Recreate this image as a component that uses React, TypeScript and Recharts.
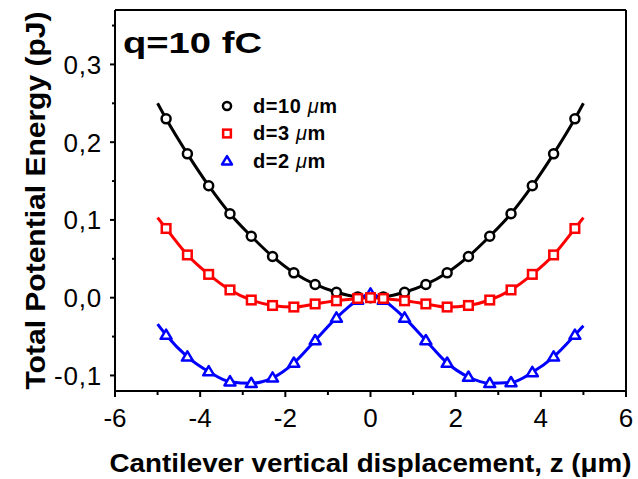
import { ComposedChart, Line, XAxis, YAxis, ReferenceLine, Legend } from 'recharts'

const FONT = '"Liberation Sans", Arial, sans-serif'

// z positions (µm) — the ±5 ends only carry the curve, no marker
const Z = [-5, -4.8, -4.3, -3.8, -3.3, -2.8, -2.3, -1.8, -1.3, -0.8, -0.3, 0, 0.3, 0.8, 1.3, 1.8, 2.3, 2.8, 3.3, 3.8, 4.3, 4.8, 5]

const D10 = [0.250, 0.230, 0.185, 0.144, 0.108, 0.079, 0.053, 0.032, 0.017, 0.007, 0.001, 0.000, 0.001, 0.007, 0.017, 0.032, 0.053, 0.079, 0.108, 0.144, 0.185, 0.230, 0.250]
const D3 = [0.103, 0.089, 0.055, 0.030, 0.010, -0.003, -0.010, -0.012, -0.008, -0.004, -0.001, 0.000, -0.001, -0.004, -0.008, -0.012, -0.010, -0.003, 0.010, 0.030, 0.055, 0.089, 0.103]
const D2 = [-0.034, -0.048, -0.076, -0.095, -0.108, -0.110, -0.103, -0.084, -0.055, -0.026, -0.003, 0.005, -0.003, -0.026, -0.055, -0.084, -0.102, -0.110, -0.109, -0.096, -0.076, -0.048, -0.036]

const X_TICKS = [-6, -5, -4, -3, -2, -1, 0, 1, 2, 3, 4, 5, 6]
const Y_TICKS = [-0.1, -0.05, 0, 0.05, 0.1, 0.15, 0.2, 0.25, 0.3, 0.35]
const X_DOMAIN = [-6, 6]
const Y_DOMAIN = [-0.12, 0.37]

const SERIES = [
  { key: 'd10', prefix: 'd=10 ', color: '#000000', shape: 'circle' },
  { key: 'd3', prefix: 'd=3 ', color: '#ff0000', shape: 'square' },
  { key: 'd2', prefix: 'd=2 ', color: '#0000ff', shape: 'triangle' },
]
const DRAW_ORDER = ['d10', 'd2', 'd3']

const rows = Z.map((z, i) => ({ z, d10: D10[i], d3: D3[i], d2: D2[i] }))

function Marker({ shape, cx, cy, color, s = 1 }: any) {
  const common = { fill: '#fff', stroke: color, strokeWidth: 2.5 }
  if (shape === 'circle') return <circle cx={cx} cy={cy} r={4.5 * s} {...common} />
  if (shape === 'square')
    return <rect x={cx - 4.3 * s} y={cy - 4.3 * s} width={8.6 * s} height={8.6 * s} {...common} />
  const pts = `${cx},${cy - 5.5 * s} ${cx - 5.5 * s},${cy + 3.8 * s} ${cx + 5.5 * s},${cy + 3.8 * s}`
  return <polygon points={pts} {...common} strokeLinejoin="round" />
}

function XTick({ x, y, payload }: any) {
  const v = payload.value
  const major = v % 2 === 0
  return (
    <g>
      <line x1={x} x2={x} y1={y} y2={y + (major ? 6 : 4)} stroke="#000" strokeWidth={2} />
      {major && (
        <text x={x} y={y + 36} textAnchor="middle" fontSize={26} fontFamily={FONT} fill="#000">
          {v}
        </text>
      )}
    </g>
  )
}

function YTick({ x, y, payload }: any) {
  const v = payload.value
  const major = Math.abs(v * 10 - Math.round(v * 10)) < 1e-6
  return (
    <g>
      <line x1={x} x2={x - (major ? 5 : 3)} y1={y} y2={y} stroke="#000" strokeWidth={2} />
      {major && (
        <text x={x - 13} y={y + 9.5} textAnchor="end" fontSize={26} fontFamily={FONT} fill="#000" letterSpacing={0.8}>
          {v.toFixed(1).replace('.', ',')}
        </text>
      )}
    </g>
  )
}

function XLabel({ viewBox }: any) {
  const cx = viewBox.x + viewBox.width / 2
  return (
    <text x={cx} y={472} textAnchor="middle" fontSize={25} fontWeight="bold" fontFamily={FONT} fill="#000"
      textLength={522} lengthAdjust="spacingAndGlyphs">
      Cantilever vertical displacement, z (μm)
    </text>
  )
}

function YLabel({ viewBox }: any) {
  const cy = viewBox.y + viewBox.height / 2
  return (
    <text x={45} y={cy} transform={`rotate(-90, 45, ${cy})`} textAnchor="middle" fontSize={27} fontWeight="bold"
      fontFamily={FONT} fill="#000" textLength={378} lengthAdjust="spacingAndGlyphs">
      Total Potential Energy (pJ)
    </text>
  )
}

function LegendBox() {
  return (
    <svg width={170} height={100}>
      {SERIES.map((s, i) => {
        const cy = 26 + i * 27.5
        return (
          <g key={s.key}>
            <Marker shape={s.shape} cx={27} cy={cy} color={s.color} s={0.9} />
            <text x={53} y={cy + 6.5} fontSize={20} fontWeight="bold" fontFamily={FONT} fill="#000" letterSpacing={0.6}>
              {s.prefix}
              <tspan fontStyle="italic" fontWeight="normal">μ</tspan>m
            </text>
          </g>
        )
      })}
    </svg>
  )
}

export default function App() {
  return (
    <div style={{ position: 'absolute', left: 0, top: 0, width: 638, height: 479, background: '#fff' }}>
      <ComposedChart width={638} height={479} data={rows} margin={{ top: 10, right: 12, bottom: 0, left: 0 }}>
        <XAxis dataKey="z" type="number" domain={X_DOMAIN} ticks={X_TICKS} interval={0} height={88}
          tickSize={0} tickMargin={0} tickLine={false} axisLine={{ stroke: '#000', strokeWidth: 2 }}
          tick={<XTick />} label={(p: any) => <XLabel {...p} />} />
        <YAxis type="number" domain={Y_DOMAIN} ticks={Y_TICKS} interval={0} width={115}
          tickSize={0} tickMargin={0} tickLine={false} axisLine={{ stroke: '#000', strokeWidth: 2 }}
          tick={<YTick />} label={(p: any) => <YLabel {...p} />} />
        <ReferenceLine y={0.37} stroke="#000" strokeWidth={2} />
        <ReferenceLine x={6} stroke="#000" strokeWidth={2} />
        <Legend layout="vertical" align="center" verticalAlign="middle" content={<LegendBox />}
          wrapperStyle={{ left: 200, top: 80, width: 170, height: 100 }} />
        {DRAW_ORDER.map((k) => {
          const s = SERIES.find((t) => t.key === k)!
          return (
            <Line key={k} type="monotone" dataKey={k} stroke={s.color} strokeWidth={3} isAnimationActive={false}
              activeDot={false} legendType="none"
              dot={(p: any) =>
                Math.abs(p.payload.z) >= 5 ? (
                  <g key={`${k}-${p.index}`} />
                ) : (
                  <Marker key={`${k}-${p.index}`} shape={s.shape} cx={p.cx} cy={p.cy} color={s.color} />
                )
              } />
          )
        })}
      </ComposedChart>
      <svg width={638} height={479} style={{ position: 'absolute', left: 0, top: 0, pointerEvents: 'none' }}>
        <text x={123} y={53} fontSize={30} fontWeight="bold" fontFamily={FONT} fill="#000"
          textLength={139} lengthAdjust="spacingAndGlyphs">
          q=10 fC
        </text>
      </svg>
    </div>
  )
}
